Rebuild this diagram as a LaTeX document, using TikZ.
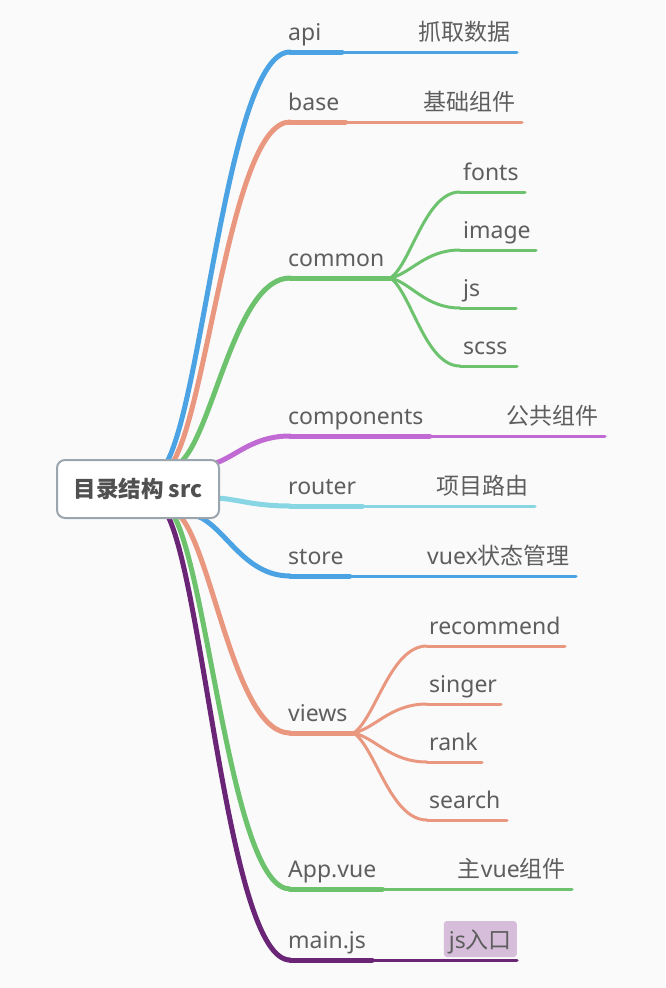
\documentclass[tikz,border=0pt]{standalone}
\usepackage{fontspec}
\setmainfont{Noto Sans}
\newfontfamily\cjk{Noto Sans CJK SC}
\usetikzlibrary{calc}
\newcommand{\Trunk}{5pt}
\newcommand{\Twig}{3pt}
\newcommand{\Lift}{12}
\definecolor{paper}{HTML}{FAFAFA}
\definecolor{ink}{HTML}{5E5E5E}
\definecolor{frame}{HTML}{9BA5AE}
\definecolor{sky}{HTML}{4BA3E3}
\definecolor{salmon}{HTML}{E9977F}
\definecolor{leaf}{HTML}{6DC26D}
\definecolor{orchid}{HTML}{C16AD3}
\definecolor{aqua}{HTML}{88D6E3}
\definecolor{plum}{HTML}{6A2577}
\definecolor{lilac}{HTML}{D6BDDA}

% one curved limb: leaves its start steeply, lands flat on its end
\newcommand{\Limb}[4]{%
  \draw[#1,line width=#2] let \p1=(#3), \p2=(#4) in
    (\p1) .. controls ({\x1+0.3*(\x2-\x1)},{\y1+0.17*(\y2-\y1)})
             and ({\x1+0.5*(\x2-\x1)},\y2) .. (\p2);}

\tikzset{
  topic/.style={anchor=base west,inner sep=0pt,text=ink,font=\fontsize{23}{28}\selectfont},
  note/.style={anchor=base east,inner sep=0pt,text=ink,font=\fontsize{23}{28}\selectfont},
  notebox/.style={note,fill=lilac,rounded corners=3pt,inner xsep=5pt,inner ysep=5pt,
    text height=22pt,text depth=4pt},
  rootbox/.style={draw=frame,line width=2pt,fill=white,rounded corners=8pt,
    minimum width=162pt,minimum height=58pt,inner sep=0pt,text=ink!85!black,
    font=\fontsize{22.5}{27}\selectfont\bfseries},
}

\begin{document}
\begin{tikzpicture}[x=1pt,y=-1pt, line join=round, line cap=round]

  % ---- paper ---------------------------------------------------------------
  \fill[paper] (0,0) rectangle (665,988);

  % ---- branches that carry a note at their far end ------------------------
  % the thick part runs under the topic, never shorter than 52
  \foreach \nm/\col/\sx/\sy/\ly/\tx/\nx/\ntx/\gap/\ns in {
      api/sky/167/462/52/api/511/{\cjk 抓取数据}/6/note,
      base/salmon/173/462/122/base/516/{\cjk 基础组件}/6/note,
      components/orchid/209/465/436/components/599/{\cjk 公共组件}/6/note,
      router/aqua/217/498/506/router/529/{\cjk 项目路由}/6/note,
      store/sky/197/516/576/store/570/{vuex\cjk 状态管理}/6/note,
      app/leaf/174/516/889/App.vue/566/{{\cjk 主}vue{\cjk 组件}}/6/note,
      main/plum/168/516/960/main.js/517/{js{\cjk 入口}}/0/notebox} {
    \coordinate (\nm-s) at (\sx,\sy);
    \coordinate (\nm-e) at (290,\ly);
    \node[topic] (\nm) at (288,\ly-\Lift) {\tx};
    \node[\ns] (\nm-n) at (\nx,\ly-\Lift) {\ntx};
    \Limb{\col}{\Trunk}{\nm-s}{\nm-e}
    \path let \p1=(\nm.east), \p2=(\nm-e) in ({max(\x1,336pt)+6pt},\y2) coordinate (\nm-k);
    \draw[\col,line width=\Trunk] (\nm-e) -- (\nm-k);
    \draw[\col,line width=\Twig] (\nm-k) -- ($(\nm-n.east |- \nm-e)+(\gap,0)$);
  }

  % ---- common and its four folders ----------------------------------------
  \coordinate (common-s) at (181,462);
  \coordinate (common-e) at (290,278);
  \node[topic] (common) at (288,278-\Lift) {common};
  \Limb{leaf}{\Trunk}{common-s}{common-e}
  \coordinate (common-k) at ($(common.east |- common-e)+(6,0)$);
  \draw[leaf,line width=\Trunk] (common-e) -- (common-k);
  \foreach \nm/\ly/\ex in {fonts/192/525, image/250/536, js/308/516, scss/366/517} {
    \coordinate (\nm-e) at (460,\ly);
    \node[topic] (\nm) at (463,\ly-\Lift) {\nm};
    \Limb{leaf}{\Twig}{common-k}{\nm-e}
    \draw[leaf,line width=\Twig] (\nm-e) -- (\ex,\ly);
  }

  % ---- views and its four pages --------------------------------------------
  \coordinate (views-s) at (180,516);
  \coordinate (views-e) at (290,733);
  \node[topic] (views) at (288,733-\Lift) {views};
  \Limb{salmon}{\Trunk}{views-s}{views-e}
  \coordinate (views-k) at ($(views.east |- views-e)+(6,0)$);
  \draw[salmon,line width=\Trunk] (views-e) -- (views-k);
  \foreach \nm/\ly/\ex in {recommend/646/565, singer/704/501, rank/762/482, search/820/507} {
    \coordinate (\nm-e) at (427,\ly);
    \node[topic] (\nm) at (429,\ly-\Lift) {\nm};
    \Limb{salmon}{\Twig}{views-k}{\nm-e}
    \draw[salmon,line width=\Twig] (\nm-e) -- (\ex,\ly);
  }

  % ---- root, last so it laps over where the limbs start -------------------
  \node[rootbox] (root) at (138,489) {\cjk 目录结构 src};

\end{tikzpicture}
\end{document}
